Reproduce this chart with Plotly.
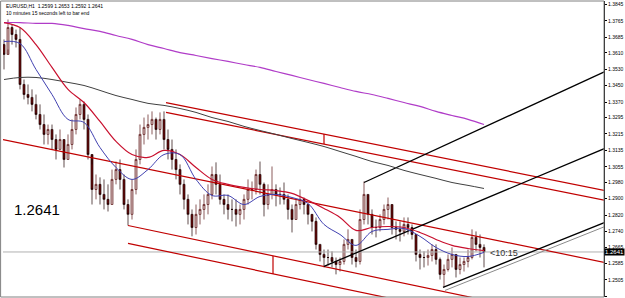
import plotly.graph_objects as go

# ---- data (EURUSD H1) ----
highs = [1.3675,1.3772,1.3748,1.3723,1.3733,1.3480,1.3456,1.3432,1.3407,1.3359,
         1.3310,1.3261,1.3261,1.3213,1.3237,1.3188,1.3213,1.3286,1.3344,1.3383,
         1.3373,1.3310,1.3067,1.3018,1.3004,1.2994,1.2970,1.3042,1.3081,1.3091,
         1.3018,1.2897,1.2994,1.3140,1.3261,1.3295,1.3310,1.3325,1.3295,1.3320,
         1.3325,1.3237,1.3188,1.3140,1.3067,1.2994,1.2921,1.2848,1.2872,1.2897,
         1.2921,1.2970,1.3057,1.3077,1.3018,1.2921,1.2921,1.2897,1.2897,1.2872,
         1.2921,1.2994,1.2984,1.3042,1.3081,1.2979,1.2970,1.3057,1.2970,1.2955,
         1.2979,1.2921,1.2872,1.2897,1.2945,1.2906,1.2872,1.2824,1.2809,1.2678,
         1.2653,1.2653,1.2644,1.2614,1.2614,1.2702,1.2751,1.2702,1.2653,1.2848,
         1.2984,1.2921,1.2848,1.2799,1.2824,1.2872,1.2906,1.2872,1.2790,1.2790,
         1.2809,1.2809,1.2775,1.2726,1.2653,1.2644,1.2653,1.2678,1.2678,1.2614,
         1.2580,1.2629,1.2663,1.2629,1.2614,1.2614,1.2653,1.2751,1.2741,1.2726,
         1.2678]
lows = [1.3529,1.3626,1.3650,1.3636,1.3432,1.3383,1.3359,1.3325,1.3286,1.3237,
        1.3164,1.3164,1.3140,1.3091,1.3140,1.3052,1.3091,1.3140,1.3213,1.3286,
        1.3237,1.3091,1.2872,1.2897,1.2872,1.2848,1.2838,1.2872,1.2970,1.2945,
        1.2848,1.2770,1.2799,1.2921,1.3067,1.3164,1.3188,1.3213,1.3188,1.3213,
        1.3140,1.3091,1.3042,1.2994,1.2921,1.2848,1.2775,1.2717,1.2726,1.2775,
        1.2799,1.2824,1.2897,1.2921,1.2872,1.2824,1.2799,1.2790,1.2765,1.2775,
        1.2799,1.2872,1.2897,1.2921,1.2921,1.2814,1.2848,1.2897,1.2863,1.2872,
        1.2872,1.2799,1.2736,1.2799,1.2848,1.2824,1.2775,1.2741,1.2653,1.2595,
        1.2566,1.2575,1.2566,1.2532,1.2546,1.2580,1.2653,1.2580,1.2566,1.2580,
        1.2775,1.2775,1.2726,1.2712,1.2741,1.2775,1.2799,1.2726,1.2702,1.2692,
        1.2717,1.2726,1.2702,1.2595,1.2556,1.2566,1.2575,1.2595,1.2580,1.2507,
        1.2469,1.2546,1.2566,1.2517,1.2532,1.2546,1.2566,1.2605,1.2644,1.2614,
        1.2566]
closes = [1.3602,1.3733,1.3699,1.3675,1.3456,1.3407,1.3393,1.3359,1.3310,1.3261,
          1.3213,1.3237,1.3188,1.3140,1.3188,1.3091,1.3164,1.3237,1.3310,1.3359,
          1.3286,1.3115,1.2945,1.2970,1.2921,1.2897,1.2872,1.2994,1.3042,1.2994,
          1.2872,1.2824,1.2945,1.3091,1.3213,1.3247,1.3261,1.3286,1.3237,1.3286,
          1.3188,1.3140,1.3091,1.3042,1.2970,1.2897,1.2824,1.2760,1.2824,1.2848,
          1.2872,1.2921,1.3018,1.2970,1.2897,1.2872,1.2848,1.2848,1.2824,1.2848,
          1.2897,1.2945,1.2945,1.3018,1.2970,1.2872,1.2921,1.2945,1.2921,1.2921,
          1.2897,1.2848,1.2799,1.2872,1.2897,1.2872,1.2824,1.2790,1.2678,1.2629,
          1.2614,1.2614,1.2595,1.2580,1.2595,1.2678,1.2702,1.2614,1.2595,1.2799,
          1.2921,1.2824,1.2760,1.2760,1.2799,1.2848,1.2872,1.2760,1.2751,1.2741,
          1.2775,1.2760,1.2726,1.2629,1.2614,1.2614,1.2624,1.2653,1.2605,1.2532,
          1.2556,1.2605,1.2629,1.2556,1.2580,1.2595,1.2614,1.2712,1.2678,1.2663,
          1.2641]
first_open = 1.3650
opens = [first_open] + closes[:-1]
bars = list(range(len(closes)))

ma_bars = list(range(0, 121, 4))
ma_purple = [1.3757,1.3757,1.3753,1.3753,1.3743,1.3728,1.3714,1.3694,1.3675,1.3650,
             1.3631,1.3611,1.3597,1.3582,1.3568,1.3553,1.3539,1.3519,1.3500,1.3480,
             1.3461,1.3441,1.3422,1.3407,1.3388,1.3368,1.3349,1.3325,1.3305,1.3286,1.3261]
ma_gray = [1.3480,1.3490,1.3490,1.3480,1.3466,1.3451,1.3427,1.3402,1.3383,1.3364,
           1.3354,1.3339,1.3320,1.3295,1.3276,1.3252,1.3232,1.3213,1.3193,1.3174,
           1.3154,1.3130,1.3106,1.3081,1.3062,1.3038,1.3018,1.2999,1.2979,1.2965,1.2950]
ma_red = [1.3757,1.3733,1.3650,1.3539,1.3432,1.3368,1.3276,1.3179,1.3115,1.3101,
          1.3135,1.3115,1.3052,1.2994,1.2970,1.2955,1.2945,1.2940,1.2926,1.2892,
          1.2853,1.2809,1.2746,1.2760,1.2765,1.2760,1.2736,1.2702,1.2673,1.2658,1.2648]
ma_blue = [1.3665,1.3655,1.3529,1.3407,1.3286,1.3271,1.3149,1.3052,1.2994,1.3042,
           1.3115,1.3115,1.2994,1.2916,1.2916,1.2872,1.2911,1.2921,1.2906,1.2877,
           1.2775,1.2726,1.2673,1.2741,1.2751,1.2755,1.2717,1.2663,1.2629,1.2619,1.2639]

# trend lines: (start bar, start price, end bar, end price)
red_lines = [(-0.25, 1.3188, 150.25, 1.2590),
             (31.0, 1.2770, 150.25, 1.2284),
             (31.0, 1.2683, 150.25, 1.2196),
             (40.5, 1.3368, 150.25, 1.2940),
             (40.5, 1.3320, 150.25, 1.2892),
             (67.25, 1.2622, 67.25, 1.2534),
             (80.0, 1.3215, 80.0, 1.3166)]
black_lines = [(90.0, 1.2979, 150.25, 1.3519),
               (80.0, 1.2571, 150.25, 1.3145),
               (109.75, 1.2469, 150.25, 1.2785)]
gray_lines = [(110.25, 1.2454, 150.25, 1.2765)]

last_price = 1.2641
symbol_line = "EURUSD,H1  1.2599 1.2653 1.2592 1.2641"
timer_line = "10 minutes 15 seconds left to bar end"
timer_short = "<10:15"

tick_vals = [1.3845,1.3765,1.3685,1.3610,1.3530,1.3450,1.3370,1.3295,1.3215,1.3135,
             1.3055,1.2980,1.2900,1.2820,1.2740,1.2665,1.2585,1.2505,1.2425]
tick_text = ["%.4f" % v for v in tick_vals]

x_range = [-0.25, 150.0]
y_range = [1.2422, 1.3862]

fig = go.Figure()

# current price line
fig.add_trace(go.Scatter(x=x_range, y=[last_price, last_price], mode="lines",
                         line=dict(color="#b0b0b0", width=1), hoverinfo="skip"))

for (x0, y0, x1, y1) in red_lines:
    fig.add_trace(go.Scatter(x=[x0, x1], y=[y0, y1], mode="lines",
                             line=dict(color="#c00000", width=1.2), hoverinfo="skip"))
for (x0, y0, x1, y1) in gray_lines:
    fig.add_trace(go.Scatter(x=[x0, x1], y=[y0, y1], mode="lines",
                             line=dict(color="#8a8a8a", width=1), hoverinfo="skip"))
for (x0, y0, x1, y1) in black_lines:
    fig.add_trace(go.Scatter(x=[x0, x1], y=[y0, y1], mode="lines",
                             line=dict(color="#000000", width=1.3), hoverinfo="skip"))

fig.add_trace(go.Scatter(x=ma_bars, y=ma_purple, mode="lines", line=dict(color="#b03cc8", width=1.2, shape="spline")))
fig.add_trace(go.Scatter(x=ma_bars, y=ma_gray, mode="lines", line=dict(color="#404040", width=1, shape="spline")))

fig.add_trace(go.Candlestick(
    x=bars, open=opens, high=highs, low=lows, close=closes,
    increasing=dict(line=dict(color="#5a1414", width=0.7), fillcolor="#dcc4c4"),
    decreasing=dict(line=dict(color="#1e0000", width=0.7), fillcolor="#6a0a0a"),
    whiskerwidth=0, hoverinfo="skip"))

fig.add_trace(go.Scatter(x=ma_bars, y=ma_red, mode="lines", line=dict(color="#c8102e", width=1.2, shape="spline")))
fig.add_trace(go.Scatter(x=ma_bars, y=ma_blue, mode="lines", line=dict(color="#4040b0", width=1, shape="spline")))

fig.add_annotation(x=0.002, y=1.0, xref="paper", yref="paper", xanchor="left", yanchor="top",
                   text=symbol_line + "<br>" + timer_line, showarrow=False, align="left",
                   font=dict(size=5, color="#000000", family="Liberation Sans"))
fig.add_annotation(x=2.0, y=1.2848, xref="x", yref="y", xanchor="left", yanchor="middle",
                   text="1.2641", showarrow=False,
                   font=dict(size=15, color="#000000", family="Liberation Sans"))
fig.add_annotation(x=121, y=last_price - 0.0006, xref="x", yref="y", xanchor="left", yanchor="middle",
                   text=timer_short, showarrow=False,
                   font=dict(size=9, color="#333333", family="Liberation Sans"))
fig.add_annotation(x=1.0, y=last_price, xref="paper", yref="y", xanchor="left", yanchor="middle",
                   text="1.2641", showarrow=False, bgcolor="#000000", borderpad=0,
                   font=dict(size=6, color="#ffffff", family="Liberation Sans"))

fig.add_shape(type="rect", xref="paper", yref="paper", x0=-0.004, y0=0, x1=1, y1=1,
              line=dict(color="#808080", width=1))

fig.update_layout(
    width=625, height=298, showlegend=False,
    paper_bgcolor="#ffffff", plot_bgcolor="#ffffff",
    margin=dict(l=3, r=21, t=1, b=1),
    xaxis=dict(range=x_range, showgrid=False, zeroline=False, showticklabels=False,
               rangeslider=dict(visible=False), fixedrange=True),
    yaxis=dict(range=y_range, side="right", showgrid=False, zeroline=False,
               tickvals=tick_vals, ticktext=tick_text, ticks="outside", ticklen=2,
               tickcolor="#000000", showline=True, linecolor="#000000", linewidth=1,
               tickfont=dict(size=5, color="#000000", family="Liberation Sans")),
)

fig.write_html("out.html")
